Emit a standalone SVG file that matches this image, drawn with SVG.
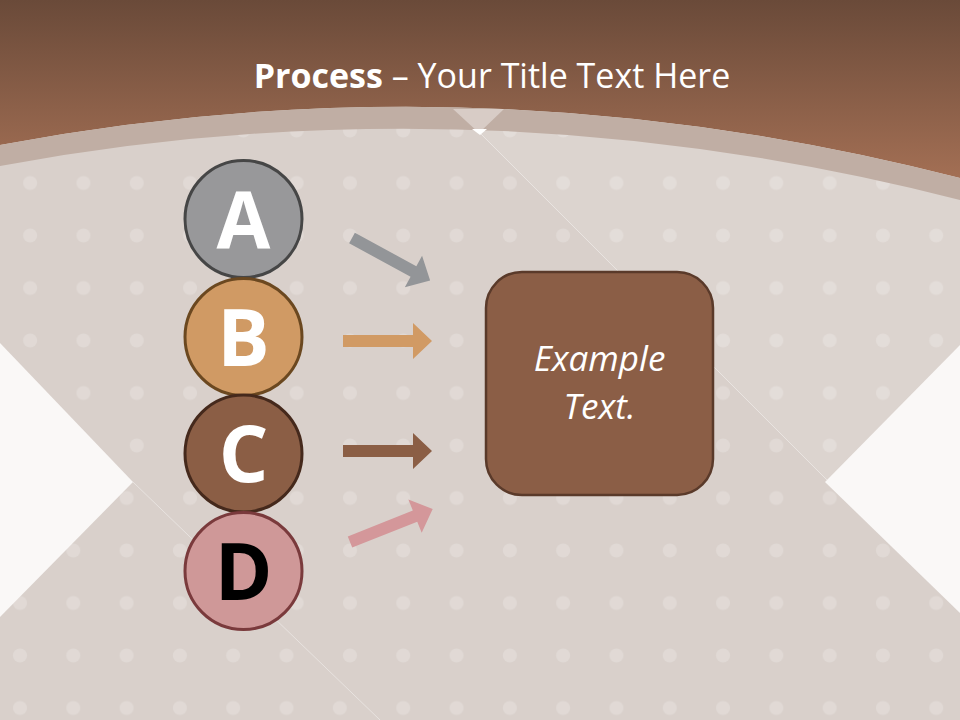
<svg xmlns="http://www.w3.org/2000/svg" width="960" height="720" viewBox="0 0 960 720">
  <defs>
    <linearGradient id="brown" x1="0" y1="0" x2="0" y2="1">
      <stop offset="0" stop-color="#6a4a39"/>
      <stop offset="1" stop-color="#a36f54"/>
    </linearGradient>
    <pattern id="dotsA" patternUnits="userSpaceOnUse" x="3.5" y="-0.75" width="53.3" height="52.5">
      <circle cx="26.65" cy="26.25" r="7" fill="#ffffff" fill-opacity="0.2"/>
    </pattern>
    <pattern id="dotsB" patternUnits="userSpaceOnUse" x="-6.65" y="-0.75" width="53.3" height="52.5">
      <circle cx="26.65" cy="26.25" r="7" fill="#ffffff" fill-opacity="0.2"/>
    </pattern>
    <clipPath id="clipC">
      <polygon points="0,482 133,482 380,720 0,720"/>
    </clipPath>
    <clipPath id="clipMain">
      <polygon points="0,0 960,0 960,720 380,720 133,482 0,482"/>
    </clipPath>
    <style>
      .circ { stroke-width: 3; }
      .letter { font-family: "Open Sans", "DejaVu Sans", sans-serif; font-weight: 700; font-size: 78px; text-anchor: middle; }
      .title { font-family: "Open Sans", "DejaVu Sans", sans-serif; font-size: 34px; fill: #ffffff; text-anchor: middle; }
      .boxtext { font-family: "Open Sans", "DejaVu Sans", sans-serif; font-style: italic; font-size: 35px; fill: #ffffff; text-anchor: middle; }
      .crease { stroke: #ffffff; stroke-opacity: 0.4; stroke-width: 1; fill: none; }
    </style>
  </defs>

  <!-- background -->
  <rect x="0" y="0" width="960" height="720" fill="#d9d0cb"/>
  <polygon points="480,133 960,613 960,0 480,0" fill="#dcd4cf"/>
  <rect x="0" y="0" width="960" height="720" fill="url(#dotsA)" clip-path="url(#clipMain)"/>
  <rect x="0" y="0" width="960" height="720" fill="url(#dotsB)" clip-path="url(#clipC)"/>
  <line class="crease" x1="480" y1="133" x2="827" y2="480"/>
  <line class="crease" x1="133" y1="482" x2="380" y2="720"/>
  <polygon points="0,343 133,482 0,617" fill="#faf8f7"/>
  <polygon points="960,345 825,482 960,613" fill="#faf8f7"/>

  <!-- top band -->
  <path d="M0,0 H960 V178 Q480,54.5 0,145 Z" fill="url(#brown)"/>
  <path d="M0,145 Q480,54.5 960,178 V200 Q480,77 0,166 Z" fill="#c0aea4"/>
  <polygon points="453,109 504,109 479,133" fill="#d8ccc6"/>
  <polygon points="472,129 487,129 480,135" fill="#ffffff"/>

  <text class="title" x="492" y="88"><tspan font-weight="700">Process</tspan> – Your Title Text Here</text>

  <!-- connectors -->
  <g id="connectors">
    <polygon transform="translate(352,238) rotate(28.6)" points="0,-6 70,-6 70,-18 89,0 70,18 70,6 0,6" fill="#939598"/>
    <polygon transform="translate(343,341)" points="0,-6 70,-6 70,-18 89,0 70,18 70,6 0,6" fill="#d19a64"/>
    <polygon transform="translate(343,451)" points="0,-6 70,-6 70,-18 89,0 70,18 70,6 0,6" fill="#8b5e45"/>
    <polygon transform="translate(350,542) rotate(-21.7)" points="0,-6 70,-6 70,-18 89,0 70,18 70,6 0,6" fill="#d4979a"/>
  </g>

  <!-- nodes -->
  <g id="node-A">
    <circle class="circ" cx="243.5" cy="219" r="58.5" fill="#98989a" stroke="#464646"/>
    <text class="letter" x="243.5" y="248" fill="#ffffff">A</text>
  </g>
  <g id="node-B">
    <circle class="circ" cx="243.5" cy="337" r="58.5" fill="#d09a64" stroke="#6b4820"/>
    <text class="letter" x="243.5" y="366" fill="#ffffff">B</text>
  </g>
  <g id="node-C">
    <circle class="circ" cx="243.5" cy="453.5" r="58.5" fill="#8b5e45" stroke="#45291c"/>
    <text class="letter" x="243.5" y="482" fill="#ffffff">C</text>
  </g>
  <g id="node-D">
    <circle class="circ" cx="243.5" cy="571" r="58.5" fill="#cf9898" stroke="#7a3a3c"/>
    <text class="letter" x="243.5" y="600" fill="#000000">D</text>
  </g>
  <g id="node-box">
    <rect x="486" y="272" width="227" height="223" rx="36" ry="36" fill="#8b5e46" stroke="#5a3a2a" stroke-width="2.5"/>
    <text class="boxtext" x="599.5" y="371">Example</text>
    <text class="boxtext" x="599.5" y="419">Text.</text>
  </g>
</svg>
